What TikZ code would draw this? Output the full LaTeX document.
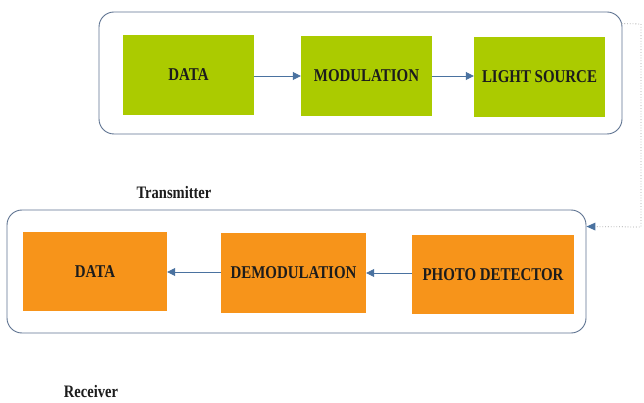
\documentclass[tikz,border=0pt]{standalone}
\usepackage{fontspec}
\setmainfont{Liberation Serif}[FakeStretch=0.83]
\usetikzlibrary{arrows.meta}
\definecolor{lgreen}{HTML}{ABCB00}
\definecolor{lorange}{HTML}{F7941A}
\definecolor{frame}{HTML}{5E7391}
\definecolor{arr}{HTML}{4A72A0}
\definecolor{txt}{HTML}{1C1C1C}
\tikzset{
  container/.style={draw=frame, line width=0.9pt, rounded corners=15pt, fill=white, inner sep=0pt},
  gbox/.style={fill=lgreen, inner sep=0pt, minimum width=131pt, minimum height=80pt, font=\fontsize{18}{21}\selectfont\bfseries, text=txt},
  obox/.style={fill=lorange, inner sep=0pt, minimum height=79pt, font=\fontsize{18}{21}\selectfont\bfseries, text=txt},
  link/.style={draw=arr, line width=0.8pt, -{Triangle[length=8pt,width=8pt]}},
  dots/.style={draw=gray!70, line width=0.8pt, dotted},
  caption/.style={font=\fontsize{17.5}{20}\selectfont\bfseries, text=txt, inner sep=0pt}
}
\begin{document}
\begin{tikzpicture}[x=1pt,y=-1pt]
\useasboundingbox[fill=white] (0,0) rectangle (644,403);
% containers
\node[container, minimum width=523pt, minimum height=122pt] (tx) at (360.5,73) {};
\node[container, minimum width=579pt, minimum height=123pt] (rx) at (296.5,271.5) {};
% transmitter blocks
\node[gbox] (data1) at (188.5,75) {DATA};
\node[gbox] (mod) at (366.5,76) {MODULATION};
\node[gbox] (light) at (539.5,77) {LIGHT SOURCE};
% receiver blocks
\node[obox, minimum width=144pt] (data2) at (95,271.5) {DATA};
\node[obox, minimum width=145pt, minimum height=80pt] (demod) at (293.5,273) {DEMODULATION};
\node[obox, minimum width=162pt] (photo) at (493,274.5) {PHOTO DETECTOR};
% arrows
\draw[link] (data1.east |- 0,76) -- (mod.west |- 0,76);
\draw[link] (mod.east |- 0,76) -- (light.west |- 0,76);
\draw[link] (photo.west |- 0,273) -- (demod.east |- 0,273);
\draw[link] (demod.west |- 0,272) -- (data2.east |- 0,272);
% dotted link
\coordinate (c1) at (641,24);
\coordinate (c2) at (641,227);
\draw[dots] ([yshift=-12pt]tx.north east) ++(-1,0) -- (c1) -- (c2) -- ([yshift=-17pt]rx.north east);
\draw[draw=none, fill=arr] ([yshift=-17pt]rx.north east) -- ++(9,-4) -- ++(0,8) -- cycle;
% labels
\node[caption] (tlab) at (174,193) {Transmitter};
\node[caption] (rlab) at (91,392) {Receiver};
\end{tikzpicture}
\end{document}
